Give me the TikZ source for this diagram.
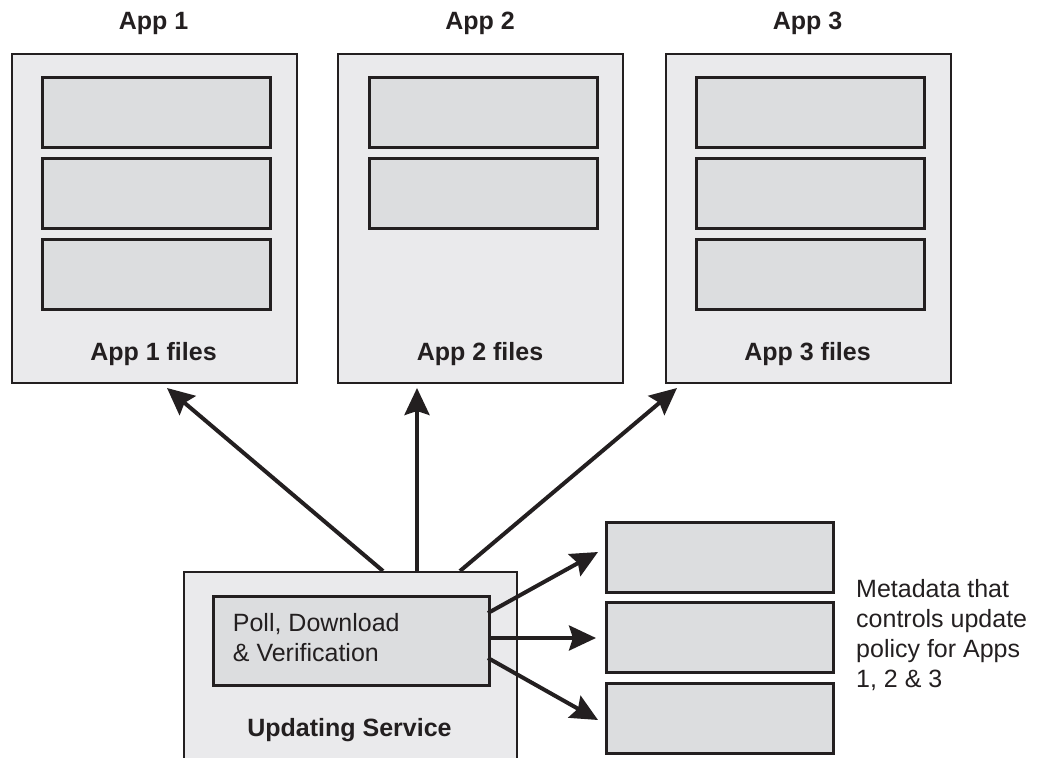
\documentclass[tikz,border=0pt]{standalone}
\usepackage{fontspec}
\setmainfont{Liberation Sans}
\usetikzlibrary{arrows.meta}
\definecolor{ink}{HTML}{231F20}
\definecolor{panelc}{HTML}{EAEAEC}
\definecolor{slotc}{HTML}{DCDDDF}
\begin{document}
\begin{tikzpicture}[x=1pt,y=-1pt,
  panel/.style={draw=ink, fill=panelc, line width=2pt, anchor=north west,
    inner sep=0pt, minimum width=285pt, minimum height=329pt},
  slot/.style={draw=ink, fill=slotc, line width=2.7pt, anchor=north west,
    inner sep=0pt, minimum width=228pt, minimum height=70pt},
  title/.style={font=\bfseries\fontsize{25}{30}\selectfont, text=ink,
    anchor=base, inner sep=0pt},
  body/.style={font=\fontsize{25}{30}\selectfont, text=ink, align=left,
    anchor=north west, inner sep=0pt},
  arr/.style={draw=ink, line width=4pt,
    -{Stealth[length=27pt,width=25pt,inset=4pt]}}]

\clip (0,0) rectangle (1040,757);

% application panels with their file slots
\node[panel] (app1) at (11,53) {};
\node[panel] (app2) at (337,53) {};
\node[panel] (app3) at (665,53) {};

\node[slot] (f11) at (41,76) {};
\node[slot] (f12) at (41,157) {};
\node[slot] (f13) at (41,238) {};
\node[slot] (f21) at (368,76) {};
\node[slot] (f22) at (368,157) {};
\node[slot] (f31) at (695,76) {};
\node[slot] (f32) at (695,157) {};
\node[slot] (f33) at (695,238) {};

\node[title] (t1) at (153.5,29.3) {App 1};
\node[title] (t2) at (480,29.3) {App 2};
\node[title] (t3) at (807.5,29.3) {App 3};
\node[title] (l1) at (153.5,360) {App 1 files};
\node[title] (l2) at (480,360) {App 2 files};
\node[title] (l3) at (807.5,360) {App 3 files};

% updating service
\node[draw=ink, fill=panelc, line width=2pt, anchor=north west, inner sep=0pt,
  minimum width=333pt, minimum height=230pt] (svc) at (183,571) {};
\node[draw=ink, fill=slotc, line width=2.7pt, anchor=north west, inner sep=0pt,
  minimum width=276pt, minimum height=89pt] (poll) at (212,595) {};
\node[body] (polltxt) at (232.7,610.7) {\strut Poll, Download\\\& Verification};
\node[title] (svclabel) at (349.5,736) {Updating Service};

% metadata slots
\node[slot, minimum width=227pt] (m1) at (605,521) {};
\node[slot, minimum width=227pt] (m2) at (605,601) {};
\node[slot, minimum width=227pt] (m3) at (605,682) {};
\node[body] (mtxt) at (856,576) {\strut Metadata that\\controls update\\policy for Apps\\1, 2 \& 3};

% connector end points
\coordinate (s1) at ([xshift=200pt]svc.north west);
\coordinate (s2) at ([xshift=234pt]svc.north west);
\coordinate (s3) at ([xshift=277pt]svc.north west);
\coordinate (a1) at (167,388);
\coordinate (a2) at (417,388);
\coordinate (a3) at (677,388);
\coordinate (p1) at (488,613);
\coordinate (p2) at (488,638);
\coordinate (p3) at (488,658);
\coordinate (d1) at (598,552);
\coordinate (d2) at (596,638);
\coordinate (d3) at (598,720);

\draw[arr] (s1) -- (a1);
\draw[arr] (s2) -- (a2);
\draw[arr] (s3) -- (a3);
\draw[arr] (p1) -- (d1);
\draw[arr] (p2) -- (d2);
\draw[arr] (p3) -- (d3);
\end{tikzpicture}
\end{document}
